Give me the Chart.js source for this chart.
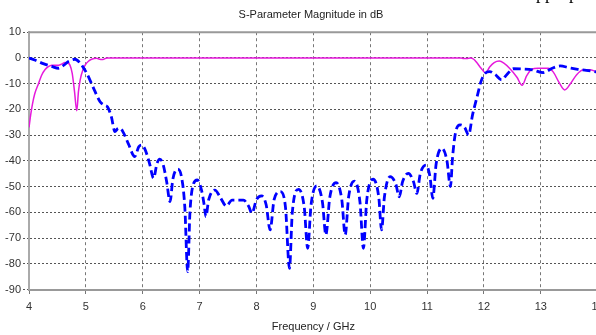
<!DOCTYPE html>
<html>
<head>
<meta charset="utf-8">
<script src="https://cdn.jsdelivr.net/npm/chart.js@4/dist/chart.umd.min.js"></script>
<style>
  body { margin: 0; background: #fff; }
  #wrap { position: relative; width: 596px; height: 335px; overflow: hidden; }
  #doc-text { position: absolute; top: -17px; left: 528px; font: 18px 'Liberation Serif', serif; color: #000; white-space: nowrap; }
</style>
</head>
<body>
<div id="wrap">
  <canvas id="chart" width="622" height="335"></canvas>
  <div id="doc-text">approp</div>
</div>
<script>
const titleText = 'S-Parameter Magnitude in dB';
const xTitle = 'Frequency / GHz';

// S11 (blue dashed)
const s11Freq = [4.00, 4.10, 4.25, 4.40, 4.52, 4.60, 4.70, 4.81, 4.90, 4.98, 5.07, 5.15, 5.25, 5.32, 5.38, 5.45, 5.51, 5.56, 5.60, 5.66, 5.75, 5.86, 5.93, 5.98, 6.04, 6.12, 6.19, 6.25, 6.30, 6.36, 6.42, 6.48, 6.53, 6.61, 6.68, 6.74, 6.79, 6.83, 6.89, 6.96, 7.03, 7.08, 7.11, 7.16, 7.27, 7.36, 7.47, 7.57, 7.77, 7.86, 7.92, 8.00, 8.09, 8.17, 8.24, 8.31, 8.42, 8.51, 8.58, 8.63, 8.74, 8.84, 8.90, 8.96, 9.06, 9.16, 9.22, 9.29, 9.40, 9.50, 9.56, 9.62, 9.72, 9.82, 9.88, 9.94, 10.05, 10.15, 10.20, 10.25, 10.35, 10.45, 10.51, 10.57, 10.67, 10.76, 10.82, 10.88, 10.98, 11.05, 11.10, 11.16, 11.26, 11.35, 11.41, 11.45, 11.50, 11.58, 11.66, 11.73, 11.80, 11.88, 11.95, 12.02, 12.10, 12.20, 12.31, 12.40, 12.52, 12.70, 12.85, 13.04, 13.20, 13.34, 13.50, 13.65, 13.80, 14.00];
const s11Db = [0, -0.8, -2.2, -3.3, -4.0, -3.0, -1.3, -0.5, -2.0, -4.6, -8.5, -12.5, -17.0, -18.3, -19.0, -23.0, -28.6, -27.5, -27.3, -29.0, -33.5, -38.3, -34.5, -33.8, -35.5, -41.0, -46.7, -41.0, -39.3, -41.5, -48.0, -55.8, -47.0, -43.2, -46.0, -58.0, -83.0, -60.0, -49.0, -47.4, -51.0, -57.0, -61.6, -55.0, -51.3, -54.0, -57.5, -55.2, -55.2, -57.5, -60.3, -55.0, -53.6, -57.0, -66.8, -55.0, -51.9, -58.0, -81.7, -60.0, -51.0, -58.0, -73.9, -57.0, -49.7, -56.0, -68.7, -54.0, -48.4, -55.0, -68.7, -54.0, -47.8, -56.0, -73.9, -55.0, -47.1, -54.0, -66.8, -53.9, -46.1, -49.0, -53.9, -48.0, -44.8, -48.0, -52.6, -45.0, -41.6, -46.0, -54.5, -41.0, -35.1, -40.0, -50.0, -38.0, -29.0, -26.0, -27.0, -29.9, -22.0, -15.0, -9.0, -6.0, -5.3, -6.5, -8.5, -6.5, -4.2, -4.3, -4.6, -5.7, -4.0, -3.1, -3.8, -4.4, -4.8, -5.5];

// S21 (magenta solid)
const s21Freq = [4.00, 4.03, 4.06, 4.10, 4.17, 4.22, 4.28, 4.34, 4.40, 4.52, 4.58, 4.63, 4.68, 4.72, 4.76, 4.80, 4.84, 4.87, 4.90, 4.95, 4.99, 5.05, 5.10, 5.19, 5.24, 5.30, 5.37, 6.00, 8.00, 10.00, 11.60, 11.64, 11.70, 11.76, 11.82, 11.88, 11.95, 12.03, 12.10, 12.18, 12.27, 12.35, 12.45, 12.58, 12.67, 12.75, 12.84, 12.95, 13.13, 13.22, 13.32, 13.42, 13.52, 13.63, 13.75, 13.85, 14.00];
const s21Db = [-27.0, -22.0, -18.0, -14.0, -9.8, -6.8, -4.6, -3.4, -2.8, -2.8, -2.3, -1.8, -2.0, -2.8, -6.0, -13.0, -20.5, -13.0, -8.5, -4.5, -2.7, -1.2, -0.5, -0.1, -0.5, -0.6, 0, 0, 0, 0, 0, -0.2, -0.2, 0, -0.5, -2.0, -4.0, -5.8, -3.5, -1.8, -1.2, -2.0, -4.0, -7.5, -10.6, -7.0, -4.4, -4.0, -4.0, -5.5, -9.5, -12.4, -10.0, -6.5, -4.6, -4.6, -5.5];

const toPoints = (xs, ys) => xs.map((x, i) => ({ x, y: ys[i] }));

const font = { family: "'Liberation Sans', Arial, sans-serif", size: 11 };

// solid frame line along the top of the plot
const topFrame = {
  id: 'topFrame',
  afterDraw(chart) {
    const { ctx, chartArea } = chart;
    ctx.save();
    ctx.strokeStyle = '#999';
    ctx.lineWidth = 2;
    ctx.beginPath();
    ctx.moveTo(chartArea.left, chartArea.top);
    ctx.lineTo(chartArea.right, chartArea.top);
    ctx.stroke();
    ctx.restore();
  }
};

new Chart(document.getElementById('chart'), {
  type: 'line',
  data: {
    datasets: [
      {
        label: 'S1,1',
        data: toPoints(s11Freq, s11Db),
        borderColor: '#0000ff',
        borderWidth: 2.8,
        borderDash: [8, 4],
        pointRadius: 0,
        cubicInterpolationMode: 'monotone',
      },
      {
        label: 'S2,1',
        data: toPoints(s21Freq, s21Db),
        borderColor: '#e619dc',
        borderWidth: 1.5,
        pointRadius: 0,
        cubicInterpolationMode: 'monotone',
      },
    ],
  },
  options: {
    responsive: false,
    animation: false,
    devicePixelRatio: 1,
    layout: { padding: 0 },
    plugins: {
      legend: { display: false },
      tooltip: { enabled: false },
      title: {
        display: true,
        text: titleText,
        color: '#222',
        font: { ...font, weight: 'normal' },
        padding: { top: 8, bottom: 11 },
      },
    },
    scales: {
      x: {
        type: 'linear',
        min: 4,
        max: 14,
        ticks: { stepSize: 1, color: '#333', font, padding: 6, maxRotation: 0 },
        grid: { color: '#777', lineWidth: 1, tickLength: 5, tickBorderDash: [3, 3] },
        border: { display: true, color: '#999', width: 2, dash: [3, 3] },
        title: { display: true, text: xTitle, color: '#222', font, padding: { top: 2, bottom: 1 } },
        afterFit(scale) {
          scale.height = 45.3;
          scale.paddingRight = 24.3;
        },
      },
      y: {
        min: -90,
        max: 10,
        ticks: { stepSize: 10, color: '#333', font, padding: 2 },
        grid: { color: '#555', lineWidth: 1, tickLength: 6, tickBorderDash: [2, 2] },
        border: { display: true, color: '#aaa', width: 2, dash: [2, 2] },
        afterFit(scale) { scale.width = 29; },
      },
    },
  },
  plugins: [topFrame],
});
</script>
</body>
</html>
